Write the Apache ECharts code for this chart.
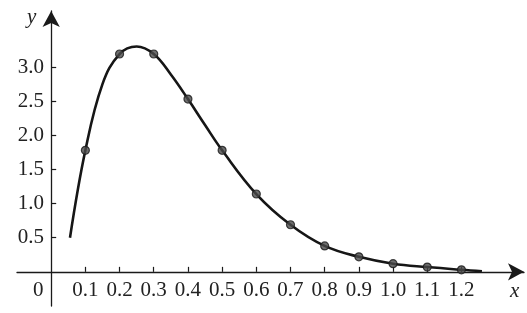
<!DOCTYPE html>
<html>
<head>
<meta charset="utf-8">
<script src="https://cdn.jsdelivr.net/npm/echarts@6/dist/echarts.min.js"></script>
<style>
html,body{margin:0;padding:0;background:#fff;}
#chart{width:527px;height:313px;}
</style>
</head>
<body>
<div id="chart"></div>
<script>
// Sample points (dots)
var pointX = [0.1, 0.2, 0.3, 0.4, 0.5, 0.6, 0.7, 0.8, 0.9, 1.0, 1.1, 1.2];
var pointY = [1.78, 3.19, 3.19, 2.53, 1.78, 1.14, 0.69, 0.38, 0.22, 0.12, 0.07, 0.03];
// Curve readings
var curveX = [0.055, 0.1, 0.15, 0.2, 0.25, 0.3, 0.35, 0.4, 0.45, 0.5, 0.6, 0.7, 0.8, 0.9, 1.0, 1.1, 1.2, 1.26];
var curveY = [0.50, 1.78, 2.75, 3.19, 3.30, 3.19, 2.89, 2.53, 2.15, 1.78, 1.14, 0.69, 0.38, 0.22, 0.12, 0.07, 0.03, 0.01];
// Tick labels
var xTicks = [0.1, 0.2, 0.3, 0.4, 0.5, 0.6, 0.7, 0.8, 0.9, 1.0, 1.1, 1.2];
var yTicks = [0.5, 1.0, 1.5, 2.0, 2.5, 3.0];

var FONT = 'Liberation Serif';
var INK = '#1a1a1a';

var chart = echarts.init(document.getElementById('chart'), null, {renderer: 'canvas'});
chart.setOption({
  animation: false,
  grid: {left: 17, right: 3, top: 11, bottom: 7, containLabel: false, outerBoundsMode: 'none'},
  xAxis: {
    type: 'value', min: -0.1, max: 1.383,
    splitLine: {show: false},
    axisLine: {onZero: true, lineStyle: {color: INK, width: 1.3}, symbol: ['none', 'arrow'], symbolSize: [13, 16]},
    axisTick: {show: true, inside: true, length: 5, lineStyle: {color: INK, width: 1.2}, customValues: xTicks},
    axisLabel: {customValues: xTicks, fontFamily: FONT, fontSize: 21, color: '#222', margin: -26,
      formatter: function (v) { return v.toFixed(1); }}
  },
  yAxis: {
    type: 'value', min: -0.5, max: 3.82,
    splitLine: {show: false},
    axisLine: {onZero: true, lineStyle: {color: INK, width: 1.3}, symbol: ['none', 'arrow'], symbolSize: [13, 16]},
    axisTick: {show: true, inside: true, length: 5, lineStyle: {color: INK, width: 1.2}, customValues: yTicks},
    axisLabel: {customValues: yTicks, fontFamily: FONT, fontSize: 21, color: '#222', margin: -27,
      formatter: function (v) { return v.toFixed(1); }}
  },
  graphic: [
    {type: 'text', left: 33, top: 280, style: {text: '0', font: '21px "Liberation Serif"', fill: '#222'}},
    {type: 'text', left: 27, top: 7, style: {text: 'y', font: 'italic 21px "Liberation Serif"', fill: '#222'}},
    {type: 'text', left: 510, top: 281, style: {text: 'x', font: 'italic 21px "Liberation Serif"', fill: '#222'}}
  ],
  series: [
    {
      type: 'line', smooth: 0.4, showSymbol: false, silent: true,
      data: curveX.map(function (x, i) { return [x, curveY[i]]; }),
      lineStyle: {color: '#161616', width: 2.6}
    },
    {
      type: 'scatter', symbol: 'circle', symbolSize: 8, silent: true, z: 3,
      data: pointX.map(function (x, i) { return [x, pointY[i]]; }),
      itemStyle: {color: '#4a4a4a', borderColor: '#1a1a1a', borderWidth: 1.2}
    }
  ]
});
</script>
</body>
</html>
